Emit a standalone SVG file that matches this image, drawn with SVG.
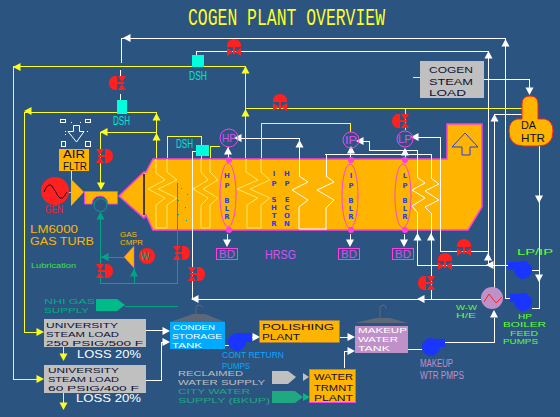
<svg xmlns="http://www.w3.org/2000/svg" width="560" height="417" viewBox="0 0 560 417">
<style>
text{font-family:"Liberation Sans",Arial,sans-serif;font-size:7.800px}
.t7{font-size:7px}
.t85{font-size:8.500px}
.t95{font-size:9.500px}
.t10{font-size:10px}
.t104{font-size:10.400px}
.mono{font-family:"Liberation Mono",monospace}
.l{fill:none;stroke-width:1;shape-rendering:crispEdges}
.w{stroke:#fff}.y{stroke:#ffff1e}.g{stroke:#00a583}
.coilY{fill:none;stroke:#ffe96a;stroke-width:1}
.coilW{fill:none;stroke:#fff;stroke-width:1}
.dk{fill:#101030}
.blue{font-family:"DejaVu Sans",sans-serif;fill:#1e3cff;font-size:6.900px;font-weight:bold;text-anchor:middle}
.cyan{fill:#00e6d2;font-size:12px}
.cy{fill:#00ffdc}
.mag{fill:none;stroke:#ff40e0;stroke-width:1}
.magT{fill:#d850f0;font-size:11px}
.orT{fill:#ffb400}
.grn{fill:#60ff30}
.pump{fill:#1a35ff}
.grey{fill:#c0c0c0}
.tank{fill:#5c6878}
</style>
<defs>
<path id="a" d="M0 -4L4 3.500H-4Z"/>
<g id="v" fill="#ff2020">
<path d="M-7 -5V-7A7 6 0 0 1 7 -7V-5Z"/>
<path d="M-7 -4L-1 0L-7 4ZM7 -4L1 0L7 4Z"/>
<rect x="-1" y="-5" width="2" height="7"/>
</g>
</defs>
<rect width="560" height="417" fill="#2b5580"/>

<text class="mono" x="188" y="25" textLength="197" lengthAdjust="spacingAndGlyphs" style="font-size:23px;fill:#ffff1e">COGEN PLANT OVERVIEW</text>

<g id="hrsg">
<path d="M153 159H447V124H482V207L468 230H153L146 215L144 218L119 196L144 172L146 172Z" fill="#ffb400" stroke="#ff40e0" stroke-width="1.500"/>
<path d="M144 174V215" stroke="#101030" stroke-width="1.500"/>
<path class="coilY" d="M156 159V173L165 180L148 189L165 198L156 205V228H167V205L177 198L158 189L177 180L167 172V159"/>
<path class="coilY" d="M201 159V172L208 180L193 189L208 198L201 205V228H210V205L218 198L203 189L218 180L210 172V159"/>
<path class="coilY" d="M246 159V172L258 180L237 189L258 198L247 205V228H261V205L270 198L250 189L270 180L261 172V159"/>
<path class="coilW" d="M299 176L308 182L292 190L308 200L299 207V229H327"/>
<path class="coilW" d="M326 176L334 182L317 190L334 200L326 208V229"/>
<path class="coilW" d="M417 177L425 183L412 190L425 198L412 206L417 212"/>
<path class="coilW" d="M431 178L439 184L425 191L439 200L425 207L431 213"/>
<path d="M465 133L478 147H470V155H462V147H452Z" fill="none" stroke="#1e3cff"/>
<ellipse class="mag" cx="228" cy="195" rx="8" ry="32"/>
<ellipse class="mag" cx="350" cy="196" rx="8" ry="32"/>
<ellipse class="mag" cx="403" cy="196" rx="8" ry="32"/>
<g fill="#ff40e0"><circle cx="229" cy="160" r="3"/><circle cx="229" cy="230" r="3"/><circle cx="351" cy="160" r="3"/><circle cx="351" cy="230" r="3"/><circle cx="405" cy="160" r="3"/><circle cx="405" cy="230" r="3"/></g>
<text class="blue"><tspan x="227" y="178">H</tspan><tspan x="227" y="188">P</tspan><tspan x="227" y="203">B</tspan><tspan x="227" y="211">L</tspan><tspan x="227" y="219">R</tspan></text>
<text class="blue"><tspan x="351" y="178">I</tspan><tspan x="351" y="188">P</tspan><tspan x="351" y="203">B</tspan><tspan x="351" y="211">L</tspan><tspan x="351" y="219">R</tspan></text>
<text class="blue"><tspan x="405" y="178">L</tspan><tspan x="405" y="188">P</tspan><tspan x="405" y="203">B</tspan><tspan x="405" y="211">L</tspan><tspan x="405" y="219">R</tspan></text>
<text class="blue"><tspan x="274" y="176">I</tspan><tspan x="274" y="186">P</tspan><tspan x="274" y="202">S</tspan><tspan x="274" y="210">H</tspan><tspan x="274" y="218">T</tspan><tspan x="274" y="226">R</tspan></text>
<text class="blue"><tspan x="287" y="176">H</tspan><tspan x="287" y="186">P</tspan><tspan x="287" y="202">E</tspan><tspan x="287" y="210">C</tspan><tspan x="287" y="218">O</tspan><tspan x="287" y="226">N</tspan></text>
<g fill="#00a583"><rect x="181" y="188" width="1" height="1"/><rect x="187" y="194" width="1" height="1"/><rect x="178" y="200" width="1" height="1"/><rect x="185" y="207" width="1" height="1"/><rect x="178" y="214" width="1" height="1"/><rect x="186" y="220" width="1" height="1"/></g>
<text class="magT" x="265" y="259" textLength="31" lengthAdjust="spacingAndGlyphs" style="font-size:13px">HRSG</text>
</g>

<g id="connectors">
<g class="l w">
<path d="M505.500 38.500H121.500V63M120.500 70V76M120.500 94V100"/>
<path d="M196.500 55V51.500H488.500V265"/>
<path d="M505.500 38V298.500H510"/>
<path d="M494.500 288V114.500H522"/>
<path d="M484 79.500H529.500V90"/>
<path d="M539.500 146V308.500H532M532 270.500H539"/>
<path d="M196 151.500H192.500V299.500H481"/>
<path d="M431.500 213V299M431.500 154V178M325 154.500H431.500M326.500 154V176"/>
<path d="M360 141.500H369.500V150.500H417.500V177M417.500 212V265.500H508"/>
<path d="M415 137.500H440.500V251.500H488"/>
<path d="M238 138.500H299.500V176"/>
<path d="M228.500 147V157M350.500 149V157M405.500 151V157M227.500 234V241M350.500 234V241M404.500 234V241"/>
<path d="M494.500 318V342.500H445M408 349.500H422"/>
<path d="M146 330.500H167M146 380.500H161.500V342.500H167M225 345.500H230M252 337.500H258"/>
<path d="M340 337.500H352M344.500 368V351.500H352"/>
<path d="M68 192.500H71" stroke="#c0c0c0"/>
</g>
<g class="l y">
<path d="M245.500 158V66.500H13.500V379.500H40"/>
<path d="M156.500 158V112.500H24.500V332.500H40"/>
<path d="M156.500 132.500H100.500V186"/>
<path d="M245.500 108.500H522M405.500 108.500V130"/>
<path d="M261.500 158V123.500H350.500V132"/>
<path d="M167.500 158V136.500H201.500V145M201.500 156V159M210.500 158V146.500H220"/>
<path d="M413 77.500H420M71.500 171V180M63.500 347V356M63.500 393V405"/>
</g>
<g class="l g">
<path d="M100.500 212V283.500H177.500V183M125 306.500H177.500M100.500 257.500H124M134.500 268V283"/>
</g>
<g fill="#fff">
<use href="#a" transform="translate(127 38) rotate(270)"/>
<use href="#a" transform="translate(488.500 55)"/>
<use href="#a" transform="translate(505.500 43)"/>
<use href="#a" transform="translate(494.500 118)"/>
<use href="#a" transform="translate(529.500 91) rotate(180)"/>
<use href="#a" transform="translate(539 199) rotate(180)"/>
<use href="#a" transform="translate(539 278) rotate(180)"/>
<use href="#a" transform="translate(238 138) rotate(270)"/>
<use href="#a" transform="translate(299.500 144)"/>
<use href="#a" transform="translate(228 151)"/>
<use href="#a" transform="translate(360 141) rotate(270)"/>
<use href="#a" transform="translate(351 150)"/>
<use href="#a" transform="translate(415 137) rotate(270)"/>
<use href="#a" transform="translate(405 152)"/>
<use href="#a" transform="translate(227 243) rotate(180)"/>
<use href="#a" transform="translate(350 243) rotate(180)"/>
<use href="#a" transform="translate(404 243) rotate(180)"/>
<use href="#a" transform="translate(417.500 237)"/>
<use href="#a" transform="translate(431 237)"/>
<use href="#a" transform="translate(488 257)"/>
<use href="#a" transform="translate(490 265) rotate(270)"/>
<use href="#a" transform="translate(421 299) rotate(270)"/>
<use href="#a" transform="translate(195 299) rotate(270)"/>
<use href="#a" transform="translate(494 314)"/>
<use href="#a" transform="translate(166 331) rotate(90)"/>
<use href="#a" transform="translate(166 342) rotate(90)"/>
<use href="#a" transform="translate(256 337) rotate(90)"/>
<use href="#a" transform="translate(351 337) rotate(90)"/>
<use href="#a" transform="translate(351 351) rotate(90)"/>
</g>
<g fill="#ffff1e">
<use href="#a" transform="translate(17 67) rotate(270)"/>
<use href="#a" transform="translate(245.500 70)"/>
<use href="#a" transform="translate(245.500 113)"/>
<use href="#a" transform="translate(28 111) rotate(270)"/>
<use href="#a" transform="translate(156.500 117)"/>
<use href="#a" transform="translate(156.500 137)"/>
<use href="#a" transform="translate(104 132) rotate(270)"/>
<use href="#a" transform="translate(101 186) rotate(180)"/>
<use href="#a" transform="translate(40 332) rotate(90)"/>
<use href="#a" transform="translate(40 379) rotate(90)"/>
<use href="#a" transform="translate(63.500 357) rotate(180)"/>
<use href="#a" transform="translate(63.500 406) rotate(180)"/>
</g>
<g fill="#00a583">
<use href="#a" transform="translate(100.500 216)"/>
<use href="#a" transform="translate(105 257) rotate(270)"/>
<use href="#a" transform="translate(134 273)"/>
</g>
</g>

<g id="valves">
<use href="#v" transform="translate(234 52)"/>
<use href="#v" transform="translate(122 83) rotate(-90)"/>
<use href="#v" transform="translate(280 107)"/>
<use href="#v" transform="translate(405 121) rotate(-90)"/>
<use href="#v" transform="translate(100 156) rotate(90)"/>
<use href="#v" transform="translate(100 271) rotate(90)"/>
<use href="#v" transform="translate(177 253) rotate(90)"/>
<use href="#v" transform="translate(192 274) rotate(90)"/>
<use href="#v" transform="translate(464 252)"/>
<use href="#v" transform="translate(445 266)"/>
<use href="#v" transform="translate(431 283) rotate(-90)"/>
</g>

<g id="dsh-top"><rect class="cy" x="192" y="55" width="12" height="12"/><text class="cyan" x="189" y="80" textLength="18" lengthAdjust="spacingAndGlyphs">DSH</text></g>
<g id="dsh-left"><rect class="cy" x="117" y="100" width="10" height="14"/><text class="cyan" x="113" y="125" textLength="17" lengthAdjust="spacingAndGlyphs">DSH</text></g>
<g id="dsh-mid"><rect class="cy" x="196" y="145" width="13" height="11"/><text class="cyan" x="176" y="148" textLength="17" lengthAdjust="spacingAndGlyphs">DSH</text></g>

<g id="hp-drum"><circle class="mag" cx="229" cy="138" r="9"/><text class="magT" x="222" y="142" textLength="14" lengthAdjust="spacingAndGlyphs">HP</text></g>
<g id="ip-drum"><circle class="mag" cx="351" cy="140" r="8"/><text class="magT" x="345" y="144" textLength="12" lengthAdjust="spacingAndGlyphs">IP</text></g>
<g id="lp-drum"><circle class="mag" cx="405" cy="139" r="8"/><text class="magT" x="398" y="143" textLength="14" lengthAdjust="spacingAndGlyphs">LP</text></g>
<g id="bd-hp"><rect class="mag" x="216.500" y="248.500" width="21" height="11"/><text class="magT" x="219" y="258" textLength="16" lengthAdjust="spacingAndGlyphs">BD</text></g>
<g id="bd-ip"><rect class="mag" x="338.500" y="248.500" width="21" height="11"/><text class="magT" x="341" y="258" textLength="16" lengthAdjust="spacingAndGlyphs">BD</text></g>
<g id="bd-lp"><rect class="mag" x="392.500" y="248.500" width="21" height="11"/><text class="magT" x="395" y="258" textLength="16" lengthAdjust="spacingAndGlyphs">BD</text></g>

<g id="cogen-load"><rect class="grey" x="420" y="61" width="64" height="37"/>
<text class="dk t95" x="429" y="73" textLength="44" lengthAdjust="spacingAndGlyphs">COGEN</text>
<text class="dk t95" x="429" y="84.500" textLength="44" lengthAdjust="spacingAndGlyphs">STEAM</text>
<text class="dk t95" x="429" y="96" textLength="37" lengthAdjust="spacingAndGlyphs">LOAD</text></g>

<g id="da-htr"><path d="M522 119V104Q522 96 530 96Q538 96 538 104V119H545Q553 121 553 131Q553 146 538 146H524Q509 146 509 131Q509 121 517 119Z" fill="#ffb400" stroke="#ff2020"/>
<text class="dk" x="521" y="129" textLength="15" lengthAdjust="spacingAndGlyphs" style="font-size:11px">DA</text>
<text class="dk" x="521" y="142" textLength="24" lengthAdjust="spacingAndGlyphs" style="font-size:11px">HTR</text></g>

<g id="air-filter">
<rect x="59" y="149" width="30" height="22" fill="#ffb400"/>
<text class="dk t10" x="63" y="158" textLength="22" lengthAdjust="spacingAndGlyphs">AIR</text>
<text class="dk t10" x="63" y="170" textLength="24" lengthAdjust="spacingAndGlyphs">FLTR</text>
<g fill="none" stroke="#fff"><rect x="60.500" y="119.500" width="5" height="3"/><rect x="85.500" y="119.500" width="5" height="3"/><rect x="61.500" y="141.500" width="4" height="5"/><rect x="85.500" y="141.500" width="5" height="5"/>
<path d="M73.500 125.500H79.500V131.500H84L76.500 142L68 131.500H73.500Z"/></g>
<g fill="#fff"><rect x="71" y="122" width="1" height="1"/><rect x="80" y="122" width="1" height="1"/><rect x="65" y="131" width="1" height="1"/><rect x="65" y="134" width="1" height="1"/><rect x="87" y="131" width="1" height="1"/></g>
</g>
<g id="gen"><circle cx="55" cy="191" r="14" fill="#ff2020"/><path d="M44 192Q48 182 52 186Q56 192 58 196Q62 202 67 192" fill="none" stroke="#101030"/><text class="t10" x="45" y="213" textLength="18" lengthAdjust="spacingAndGlyphs" fill="#ff2020">GEN</text></g>
<g id="gas-turbine">
<path d="M71 179L84 192L71 206Z" fill="#ffb400"/>
<path d="M84.500 191.500H117.500V204H108A8 8 0 0 0 92 204H84.500Z" fill="#ffb400" stroke="#ff40e0"/>
<circle cx="100.500" cy="205" r="6.500" fill="none" stroke="#00a583"/>
<text class="orT t104" x="30" y="233" textLength="48" lengthAdjust="spacingAndGlyphs">LM6000</text>
<text class="orT t104" x="30" y="245" textLength="64" lengthAdjust="spacingAndGlyphs">GAS TURB</text>
<text x="31" y="268" textLength="45" lengthAdjust="spacingAndGlyphs" fill="#40e040" style="font-size:7px">Lubrication</text>
</g>
<g id="gas-compressor">
<path d="M124 257L134 246V268Z" fill="#ffb400" stroke="#ff40e0" stroke-width="0.500"/>
<circle cx="147" cy="256" r="8" fill="#ff2020"/><text x="141" y="260" fill="#00a583" style="font-size:10px" textLength="9" lengthAdjust="spacingAndGlyphs">W</text>
<text class="orT" x="120" y="237" textLength="17" lengthAdjust="spacingAndGlyphs" style="font-size:6.500px">GAS</text>
<text class="orT" x="120" y="244.500" textLength="23" lengthAdjust="spacingAndGlyphs" style="font-size:6.500px">CMPR</text>
</g>
<g id="nhi-gas">
<path d="M96 299H117L125 305L117 311H96Z" fill="#00bb88"/>
<text x="44" y="304" textLength="51" lengthAdjust="spacingAndGlyphs" fill="#00b080">NHI GAS</text>
<text x="44" y="313" textLength="45" lengthAdjust="spacingAndGlyphs" fill="#00b080">SUPPLY</text>
</g>
<g id="univ-250"><rect class="grey" x="44" y="319" width="102" height="28"/>
<text class="dk" x="46" y="327.500" textLength="72" lengthAdjust="spacingAndGlyphs">UNIVERSITY</text>
<text class="dk" x="46" y="336.500" textLength="73" lengthAdjust="spacingAndGlyphs">STEAM LOAD</text>
<text class="dk" x="46" y="345.500" textLength="97" lengthAdjust="spacingAndGlyphs">250 PSIG/500 F</text></g>
<g id="univ-60"><rect class="grey" x="44" y="365" width="102" height="28"/>
<text class="dk" x="48" y="373" textLength="71" lengthAdjust="spacingAndGlyphs">UNIVERSITY</text>
<text class="dk" x="48" y="382" textLength="71" lengthAdjust="spacingAndGlyphs">STEAM LOAD</text>
<text class="dk" x="48" y="391" textLength="91" lengthAdjust="spacingAndGlyphs">60 PSIG/400 F</text></g>
<text class="t104" x="77" y="358" textLength="64" lengthAdjust="spacingAndGlyphs" fill="#fff">LOSS 20%</text>
<text class="t104" x="76" y="402" textLength="65" lengthAdjust="spacingAndGlyphs" fill="#fff">LOSS 20%</text>

<g id="conden-tank">
<path d="M170 322L193 314H205L225 322Z" class="tank"/>
<path d="M196 314V308Q196 305 199 305Q202 305 203 308" fill="none" stroke="#5c6878"/>
<rect x="170" y="322" width="55" height="27" fill="#00aaff"/>
<text x="173" y="330" textLength="42" lengthAdjust="spacingAndGlyphs" fill="#fff">CONDEN</text>
<text x="172" y="339" textLength="50" lengthAdjust="spacingAndGlyphs" fill="#fff">STORAGE</text>
<text x="172" y="348" textLength="30" lengthAdjust="spacingAndGlyphs" fill="#fff">TANK</text>
</g>
<g id="cond-pump"><circle cx="237" cy="342" r="9" class="pump"/><rect class="pump" x="237" y="333" width="15" height="9"/><text class="t95" x="222" y="358" textLength="62" lengthAdjust="spacingAndGlyphs" fill="#0aa5ff">CONT RETURN</text><text class="t95" x="222" y="369" textLength="28" lengthAdjust="spacingAndGlyphs" fill="#0aa5ff">PUMPS</text></g>
<g id="polishing"><rect x="259.500" y="320.500" width="80" height="22" fill="#ffb400" stroke="#ff40e0" stroke-dasharray="1 9"/>
<text class="dk t85" x="262" y="330" textLength="72" lengthAdjust="spacingAndGlyphs">POLISHING</text>
<text class="dk t85" x="262" y="340" textLength="38" lengthAdjust="spacingAndGlyphs">PLANT</text></g>
<g id="makeup-tank">
<path d="M355 323L376 318H390L408 323Z" class="tank"/>
<path d="M380 318V309Q380 305 383 305Q386 305 386 309" fill="none" stroke="#5c6878"/>
<rect x="355" y="326" width="53" height="27" fill="#c090c8"/>
<text x="358" y="333" textLength="49" lengthAdjust="spacingAndGlyphs" fill="#fff">MAKEUP</text>
<text x="358" y="342" textLength="40" lengthAdjust="spacingAndGlyphs" fill="#fff">WATER</text>
<text x="358" y="351" textLength="32" lengthAdjust="spacingAndGlyphs" fill="#fff">TANK</text>
</g>
<g id="makeup-pump"><circle cx="431" cy="347" r="9" class="pump"/><rect class="pump" x="431" y="339" width="14" height="8"/>
<text class="t10" x="420" y="367" textLength="33" lengthAdjust="spacingAndGlyphs" fill="#c090c8">MAKEUP</text><text class="t10" x="420" y="379" textLength="44" lengthAdjust="spacingAndGlyphs" fill="#c090c8">WTR PMPS</text></g>
<g id="water-plant"><rect x="309.500" y="369.500" width="46" height="33" fill="#ffb400" stroke="#ff40e0"/>
<text class="dk t85" x="314" y="380" textLength="39" lengthAdjust="spacingAndGlyphs">WATER</text>
<text class="dk t85" x="314" y="390.500" textLength="39" lengthAdjust="spacingAndGlyphs">TRMNT</text>
<text class="dk t85" x="314" y="401" textLength="39" lengthAdjust="spacingAndGlyphs">PLANT</text></g>
<g id="reclaimed"><path d="M272 371H288L296 377L288 384H272Z" class="grey"/><path d="M303 373L309 377L303 381Z" class="grey"/>
<text class="grey" x="178" y="376" textLength="65" lengthAdjust="spacingAndGlyphs">RECLAIMED</text>
<text class="grey" x="178" y="385" textLength="87" lengthAdjust="spacingAndGlyphs">WATER SUPPLY</text></g>
<g id="city-water"><path d="M272 391H295L303 397L295 403H272Z" fill="#20a880"/><path d="M303 393L310 397L303 401Z" fill="#00bb88"/>
<text x="178" y="394" textLength="72" lengthAdjust="spacingAndGlyphs" fill="#20a880">CITY WATER</text>
<text x="178" y="403" textLength="92" lengthAdjust="spacingAndGlyphs" fill="#20a880">SUPPLY (BKUP)</text></g>
<g id="hx"><circle cx="492" cy="298" r="11" fill="#c090c8"/><path d="M484 302L489 294L496 303L502 297" fill="none" stroke="#ff2020"/>
<text class="grn t7" x="456" y="310" textLength="21" lengthAdjust="spacingAndGlyphs">W-W</text><text class="grn t7" x="456" y="318" textLength="20" lengthAdjust="spacingAndGlyphs">H/E</text></g>
<g id="lp-pump"><circle cx="523" cy="270" r="9" class="pump"/><rect class="pump" x="508" y="262" width="15" height="8"/><text class="grn t85" x="517" y="255" textLength="36" lengthAdjust="spacingAndGlyphs">LP/IP</text></g>
<g id="hp-pump"><circle cx="523" cy="302" r="9" class="pump"/><rect class="pump" x="510" y="294" width="13" height="8"/>
<text class="grn t7" x="518" y="319" textLength="14" lengthAdjust="spacingAndGlyphs">HP</text>
<text class="grn t7" x="503" y="327.300" textLength="43" lengthAdjust="spacingAndGlyphs">BOILER</text>
<text class="grn t7" x="510" y="335.600" textLength="28" lengthAdjust="spacingAndGlyphs">FEED</text>
<text class="grn t7" x="503" y="343.900" textLength="35" lengthAdjust="spacingAndGlyphs">PUMPS</text></g>
</svg>
